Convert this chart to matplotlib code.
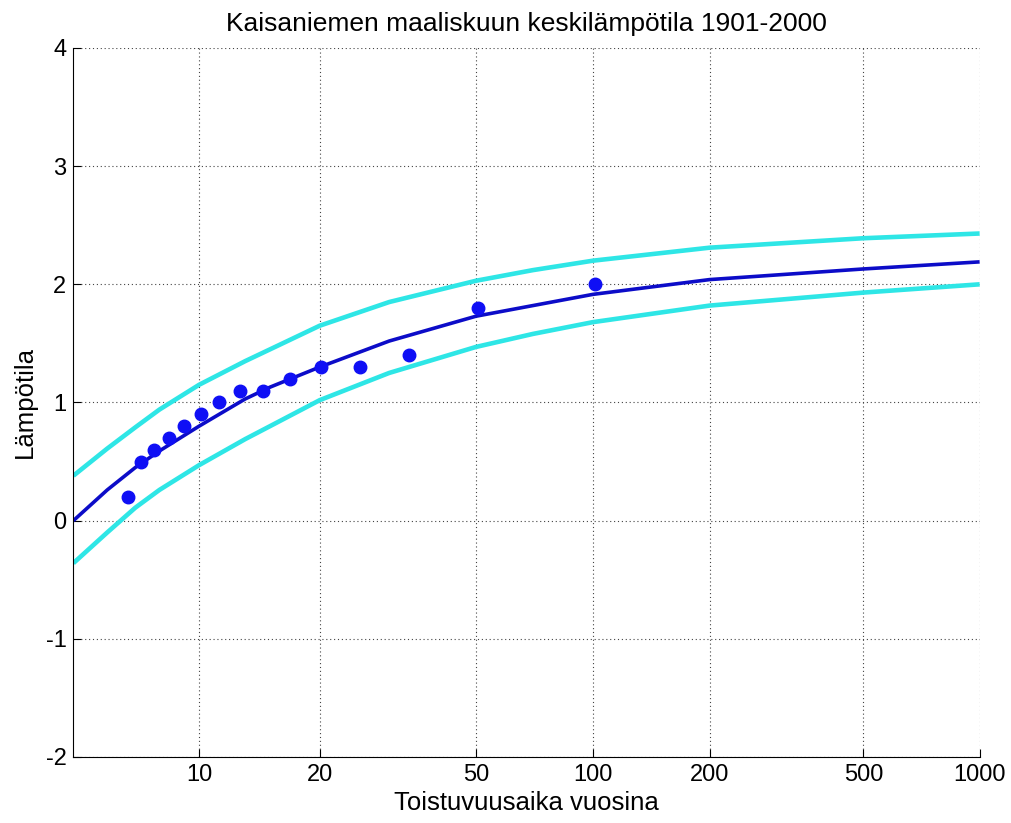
import numpy as np
import matplotlib
matplotlib.use("Agg")
import matplotlib.pyplot as plt
from matplotlib.ticker import FixedLocator, FixedFormatter

plt.rcParams['font.family'] = ['Liberation Sans', 'DejaVu Sans']

# observed values (return period in years, temperature)
obs_T = [101, 50.5, 33.7, 25.3, 20.2, 16.8, 14.4, 12.6, 11.2, 10.1, 9.18, 8.42, 7.77, 7.21, 6.73]
obs_val = [2.0, 1.8, 1.4, 1.3, 1.3, 1.2, 1.1, 1.1, 1.0, 0.9, 0.8, 0.7, 0.6, 0.5, 0.2]

# fitted curve and confidence limits
curve_T = [5, 6, 7, 8, 10, 13, 15, 20, 30, 50, 70, 100, 200, 500, 1000]
fit_mid = [0.0, 0.26, 0.45, 0.59, 0.80, 1.03, 1.13, 1.30, 1.52, 1.73, 1.82, 1.915, 2.04, 2.13, 2.19]
fit_upper = [0.38, 0.61, 0.79, 0.94, 1.15, 1.35, 1.45, 1.65, 1.85, 2.03, 2.12, 2.20, 2.31, 2.39, 2.43]
fit_lower = [-0.36, -0.10, 0.11, 0.26, 0.47, 0.69, 0.80, 1.02, 1.25, 1.47, 1.58, 1.68, 1.82, 1.93, 2.00]

x_ticks = [10, 20, 50, 100, 200, 500, 1000]
y_ticks = [-2, -1, 0, 1, 2, 3, 4]


def gumbel_fwd(T):
    T = np.asarray(T, dtype=float)
    with np.errstate(divide='ignore', invalid='ignore'):
        p = 1.0 - 1.0 / np.clip(T, 1.0000001, None)
        return -np.log(-np.log(p))


def gumbel_inv(y):
    y = np.asarray(y, dtype=float)
    with np.errstate(divide='ignore', invalid='ignore', over='ignore'):
        return 1.0 / (1.0 - np.exp(-np.exp(-y)))


fig = plt.figure(figsize=(10.12, 8.23), dpi=100)
ax = fig.add_axes([0.0725, 0.0802, 0.8955, 0.8615])
ax.set_xscale('function', functions=(gumbel_fwd, gumbel_inv))

ax.plot(curve_T, fit_upper, color='#2ee6e6', lw=3.3, solid_capstyle='butt', solid_joinstyle='round')
ax.plot(curve_T, fit_lower, color='#2ee6e6', lw=3.3, solid_capstyle='butt', solid_joinstyle='round')
ax.plot(curve_T, fit_mid, color='#0c0cc8', lw=2.6, solid_capstyle='butt', solid_joinstyle='round')
ax.plot(obs_T, obs_val, 'o', color='#0f0ff5', ms=9, mec='#0f0ff5')

ax.set_xlim(5, 1000)
ax.set_ylim(-2, 4)
ax.xaxis.set_major_locator(FixedLocator(x_ticks))
ax.xaxis.set_major_formatter(FixedFormatter([str(t) for t in x_ticks]))
ax.xaxis.set_minor_locator(FixedLocator([]))
ax.set_yticks(y_ticks)
ax.set_yticklabels([str(t) for t in y_ticks])

ax.grid(True, linestyle=(0, (1, 2.5)), color='#444444', linewidth=0.8)
ax.spines['top'].set_visible(False)
ax.spines['right'].set_visible(False)
ax.tick_params(direction='in', length=6, labelsize=17, pad=5)

ax.set_title('Kaisaniemen maaliskuun keskilämpötila 1901-2000', fontsize=19, pad=12)
ax.set_xlabel('Toistuvuusaika vuosina', fontsize=18.5, labelpad=4)
ax.set_ylabel('Lämpötila', fontsize=18.5, labelpad=6)

fig.savefig('out.png', dpi=100)
